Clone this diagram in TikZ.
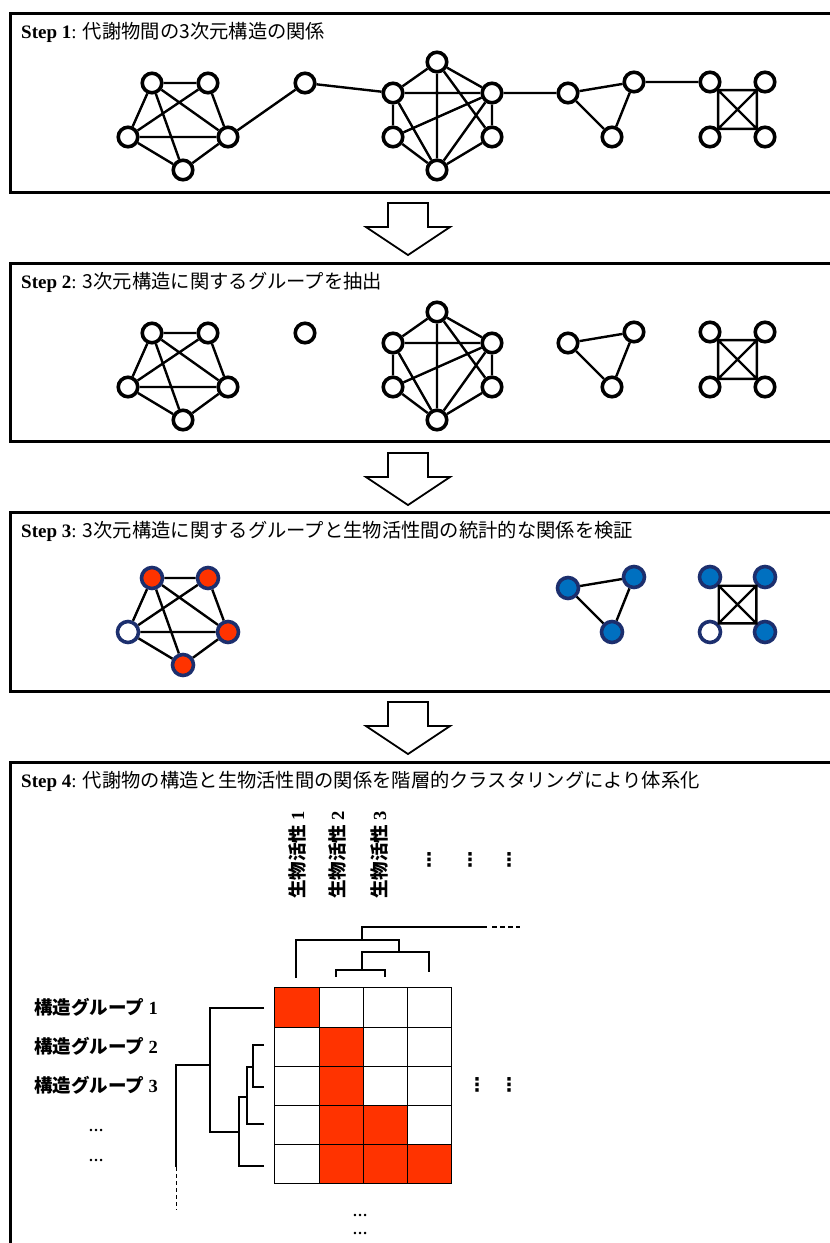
\documentclass[tikz,border=0pt]{standalone}
\usepackage{fontspec}
\usepackage{xcolor}
\setmainfont{Liberation Serif}
\newfontfamily\jpfont{Noto Sans CJK JP}
\newfontfamily\symfont{DejaVu Sans}
\usetikzlibrary{positioning}

\definecolor{actred}{HTML}{FF3300}
\definecolor{actblue}{HTML}{0070C0}
\definecolor{rimblue}{HTML}{1C2F6E}

% japanese text, plain and bold
\newcommand{\jp}[1]{{\jpfont\fontsize{19.3}{22}\selectfont #1}}
\newcommand{\jpb}[1]{{\jpfont\bfseries\fontsize{18.5}{20}\selectfont #1}}

% five molecules: prefix, then one style per node
\newcommand{\pentagroup}[6]{
  \node[#2](#1a) at (152,83){};
  \node[#3](#1b) at (208,83){};
  \node[#4](#1c) at (128,137){};
  \node[#5](#1d) at (228,137){};
  \node[#6](#1e) at (183,170){};
  \draw[bond](#1a)--(#1b) (#1a)--(#1c) (#1a)--(#1d) (#1a)--(#1e) (#1b)--(#1c)
    (#1b)--(#1d) (#1c)--(#1d) (#1c)--(#1e) (#1d)--(#1e);}
% six molecules
\newcommand{\hexagroup}[1]{
  \node[mol](#1a) at (437,62){};
  \node[mol](#1b) at (393,93){};
  \node[mol](#1c) at (492,93){};
  \node[mol](#1d) at (393,137){};
  \node[mol](#1e) at (492,137){};
  \node[mol](#1f) at (437,170){};
  \draw[bond](#1a)--(#1b) (#1a)--(#1c) (#1a)--(#1f) (#1a)--(#1e) (#1b)--(#1c) (#1b)--(#1d)
    (#1b)--(#1f) (#1d)--(#1c) (#1d)--(#1f) (#1c)--(#1f) (#1c)--(#1e) (#1e)--(#1f);}
% three molecules
\newcommand{\trigroup}[4]{
  \node[#2](#1a) at (568,93){};
  \node[#3](#1b) at (634,82){};
  \node[#4](#1c) at (612,137){};
  \draw[bond](#1a)--(#1b)--(#1c)--(#1a);}
% four molecules
\newcommand{\quadgroup}[5]{
  \node[#2](#1a) at (710,82){};
  \node[#3](#1b) at (765,82){};
  \node[#4](#1c) at (710,137){};
  \node[#5](#1d) at (765,137){};
  \draw[bond](#1a.south east)--(#1b.south west)--(#1d.north west)--(#1c.north east)--cycle
    (#1a.south east)--(#1d.north west) (#1b.south west)--(#1c.north east);}

\begin{document}
\begin{tikzpicture}[x=1pt, y=-1pt,
  %frames and arrows
  panel/.style={draw, line width=3pt},
  blockarrow/.style={draw, fill=white, line width=1.8pt, line join=miter},
  title/.style={anchor=west, inner sep=0pt, font=\fontsize{19}{22}\selectfont},
  %molecules
  mol/.style={circle, draw, fill=white, line width=3.6pt, minimum size=19.5pt, inner sep=0pt},
  redmol/.style={mol, fill=actred, draw=rimblue, minimum size=21pt},
  bluemol/.style={mol, fill=actblue, draw=rimblue, minimum size=21pt},
  offmol/.style={mol, draw=rimblue, minimum size=21pt},
  bond/.style={line width=2.4pt},
  %clustering
  tree/.style={line width=2.2pt},
  cell/.style={rectangle, minimum width=44pt, minimum height=39pt, inner sep=0pt},
  collabel/.style={rotate=90, inner sep=0pt, font=\fontsize{18.5}{20}\selectfont},
  rowlabel/.style={anchor=west, inner sep=0pt, font=\fontsize{18.5}{20}\selectfont},
  more/.style={inner sep=0pt, font=\fontsize{15}{16}\selectfont},
  vmore/.style={inner sep=0pt, font=\symfont\bfseries\fontsize{19}{20}\selectfont}]

  \useasboundingbox[fill=white](0,0) rectangle (830,1243);

  %step 1
  \draw[panel](10,13) rectangle (845,192);
  \node[title](t1) at (21,32){\textbf{Step 1}: \jp{代謝物間の3次元構造の関係}};
  \pentagroup{p1}{mol}{mol}{mol}{mol}{mol}
  \node[mol](s1) at (305,83){};
  \hexagroup{h1}
  \trigroup{r1}{mol}{mol}{mol}
  \quadgroup{q1}{mol}{mol}{mol}{mol}
  \draw[bond](p1d)--(s1)--(h1b) (h1c)--(r1a) (r1b)--(q1a);

  \draw[blockarrow](388,203)--(428,203)--(428,227)--(450,227)--(408,255)--(366,227)--(388,227)--cycle;

  %step 2
  \draw[panel](10,263) rectangle (845,441);
  \node[title](t2) at (21,282){\textbf{Step 2}: \jp{3次元構造に関するグループを抽出}};
  \begin{scope}[shift={(0,250)}]
    \pentagroup{p2}{mol}{mol}{mol}{mol}{mol}
    \node[mol](s2) at (305,83){};
    \hexagroup{h2}
    \trigroup{r2}{mol}{mol}{mol}
    \quadgroup{q2}{mol}{mol}{mol}{mol}
  \end{scope}

  \draw[blockarrow](388,453)--(428,453)--(428,477)--(450,477)--(408,505)--(366,477)--(388,477)--cycle;

  %step 3
  \draw[panel](10,512) rectangle (845,691);
  \node[title](t3) at (21,531){\textbf{Step 3}: \jp{3次元構造に関するグループと生物活性間の統計的な関係を検証}};
  \begin{scope}[shift={(0,495)}]
    \pentagroup{p3}{redmol}{redmol}{offmol}{redmol}{redmol}
    \trigroup{r3}{bluemol}{bluemol}{bluemol}
    \quadgroup{q3}{bluemol}{bluemol}{offmol}{bluemol}
  \end{scope}

  \draw[blockarrow](388,702)--(428,702)--(428,726)--(450,726)--(408,754)--(366,726)--(388,726)--cycle;

  %step 4
  \draw[panel](10,762) rectangle (845,1260);
  \node[title](t4) at (21,781){\textbf{Step 4}: \jp{代謝物の構造と生物活性間の関係を階層的クラスタリングにより体系化}};

  \node[collabel](a1) at (297,855){\jpb{生物活性} \textbf{1}};
  \node[collabel](a2) at (337,855){\jpb{生物活性} \textbf{2}};
  \node[collabel](a3) at (379,855){\jpb{生物活性} \textbf{3}};
  \node[vmore](v1) at (429,860){⋮};
  \node[vmore](v2) at (470,860){⋮};
  \node[vmore](v3) at (509,860){⋮};

  \node[rowlabel](g1) at (34,1007){\jpb{構造グループ} \textbf{1}};
  \node[rowlabel](g2) at (34,1046){\jpb{構造グループ} \textbf{2}};
  \node[rowlabel](g3) at (34,1085){\jpb{構造グループ} \textbf{3}};
  \node[more](e1) at (96,1130){\textbf{\ldots}};
  \node[more](e2) at (96,1160){\textbf{\ldots}};

  %heat map
  \foreach \r in {1,...,5}
    \foreach \c in {1,...,4}
      \node[cell](m\r\c) at ({253+44*\c},{968.5+39*\r}){};
  \foreach \r/\c in {1/1,2/2,3/2,4/2,5/2,4/3,5/3,5/4}
    \fill[actred](m\r\c.south west) rectangle (m\r\c.north east);
  \draw[line width=1pt](m11.north west) rectangle (m54.south east);
  \foreach \c in {1,2,3}
    \draw[line width=1pt](m1\c.north east)--(m5\c.south east);
  \foreach \r in {1,...,4}
    \draw[line width=1pt](m\r1.south west)--(m\r4.south east);

  \node[vmore](w1) at (477,1085){⋮};
  \node[vmore](w2) at (509,1085){⋮};
  \node[more](b1) at (360,1215){\textbf{\ldots}};
  \node[more](b2) at (360,1233){\textbf{\ldots}};

  %dendrogram over the columns
  \draw[tree](362,940)--(362,927)--(487,927);
  \draw[line width=1.2pt, dash pattern=on 5pt off 3pt](492,927)--(520,927);
  \draw[tree](296,978)--(296,940)--(399,940)--(399,952);
  \draw[tree](362,970)--(362,952)--(429,952)--(429,972);
  \draw[tree](336,977)--(336,970)--(385,970)--(385,977);

  %dendrogram beside the rows
  \draw[tree](264,1008)--(210,1008)--(210,1132)--(239,1132);
  \draw[tree](176,1167)--(176,1065)--(210,1065);
  \draw[line width=1pt, dash pattern=on 4pt off 3pt](176,1167)--(176,1210);
  \draw[tree](264,1166)--(239,1166)--(239,1097)--(247,1097);
  \draw[tree](264,1124)--(247,1124)--(247,1067)--(253,1067);
  \draw[tree](264,1045)--(253,1045)--(253,1087)--(264,1087);
\end{tikzpicture}
\end{document}
